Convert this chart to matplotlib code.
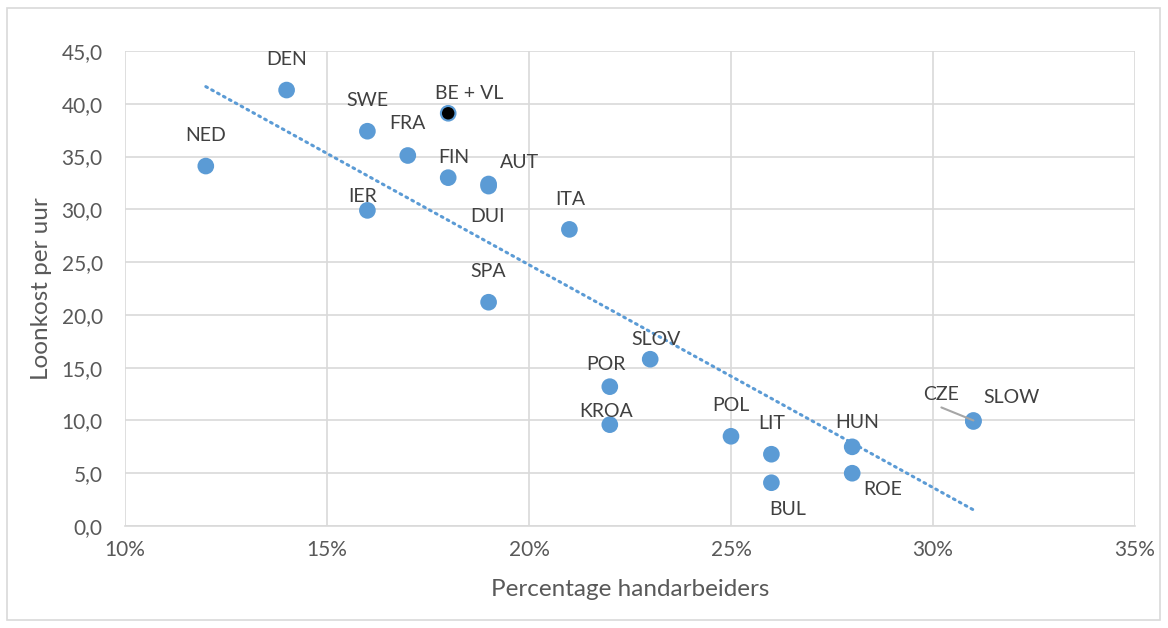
import numpy as np
import matplotlib
matplotlib.use("Agg")
import matplotlib.pyplot as plt
from matplotlib.ticker import FuncFormatter, MultipleLocator
from matplotlib.patches import Rectangle

plt.rcParams['font.family'] = ['Lato', 'DejaVu Sans']

countries = ["NED", "DEN", "SWE", "FRA", "BE + VL", "FIN", "AUT", "DUI", "IER", "ITA",
             "SPA", "SLOV", "POR", "KROA", "POL", "LIT", "BUL", "HUN", "ROE", "CZE", "SLOW"]
pct_manual = [12, 14, 16, 17, 18, 18, 19, 19, 16, 21,
              19, 23, 22, 22, 25, 26, 26, 28, 28, 31, 31]
wage_cost = [34.1, 41.3, 37.4, 35.1, 39.1, 33.0, 32.4, 32.2, 29.9, 28.1,
             21.2, 15.8, 13.2, 9.6, 8.5, 6.8, 4.1, 7.5, 5.0, 10.0, 9.9]

# label offsets in pixels (style)
offsets = {"NED": (0, 31), "DEN": (0, 31), "SWE": (0, 31), "FRA": (0, 32),
           "BE + VL": (21, 20), "FIN": (6, 20), "AUT": (31, 22), "DUI": (-1, -30),
           "IER": (-5, 14), "ITA": (1, 30), "SPA": (0, 31), "SLOV": (6, 20),
           "POR": (-4, 22), "KROA": (-4, 13), "POL": (0, 31), "LIT": (0, 31),
           "BUL": (16, -27), "HUN": (5, 24), "ROE": (30, -16), "CZE": (-32, 26),
           "SLOW": (38, 24)}

blue = "#5b9bd5"
grid_c = "#d9d9d9"
text_c = "#595959"

fig = plt.figure(figsize=(11.68, 6.28), dpi=100)
fig.patches.append(Rectangle((7/1168, 8/628), 1153/1168, 612/628, transform=fig.transFigure,
                             fill=False, edgecolor=grid_c, linewidth=1.2))
ax = fig.add_axes([125/1168, 1 - 526/628, 1010/1168, 475/628])

x = np.array(pct_manual, dtype=float) / 100
y = np.array(wage_cost)

ax.set_xlim(0.10, 0.35)
ax.set_ylim(0, 45)
ax.xaxis.set_major_locator(MultipleLocator(0.05))
ax.yaxis.set_major_locator(MultipleLocator(5))
ax.xaxis.set_major_formatter(FuncFormatter(lambda v, p: f"{v*100:.0f}%"))
ax.yaxis.set_major_formatter(FuncFormatter(lambda v, p: f"{v:.1f}".replace(".", ",")))
ax.grid(True, color=grid_c, linewidth=1.2)
ax.set_axisbelow(True)
for s in ["top", "right"]:
    ax.spines[s].set_visible(False)
ax.spines["left"].set_visible(False)
ax.spines["bottom"].set_color(grid_c)
ax.spines["bottom"].set_linewidth(1.2)
ax.tick_params(length=0, labelsize=15, colors=text_c)
ax.tick_params(axis="y", pad=16)
ax.tick_params(axis="x", pad=10)

# trendline
coef = np.polyfit(x, y, 1)
xt = np.array([x.min(), x.max()])
ax.plot(xt, np.polyval(coef, xt), color=blue, linewidth=2.2,
        linestyle=(0, (0.6, 1.6)), dash_capstyle='round', zorder=2)

colors = ["black" if c == "BE + VL" else blue for c in countries]
ax.scatter(x, y, s=110, c=colors, edgecolors=blue, linewidths=1.5, zorder=3)

for c, xi, yi in zip(countries, x, y):
    dx, dy = offsets[c]
    ax.annotate(c, (xi, yi), xytext=(dx * 0.72, dy * 0.72), textcoords="offset points",
                ha="center", va="center", fontsize=14, color="#404040", zorder=4)

# leader line for CZE
i = countries.index("CZE")
ax.annotate("", (x[i], y[i]), xytext=(-32 * 0.72, 13 * 0.72), textcoords="offset points",
            arrowprops=dict(arrowstyle="-", color="#a6a6a6", linewidth=1.5, shrinkA=0, shrinkB=0))

ax.set_xlabel("Percentage handarbeiders", fontsize=17.5, color=text_c, labelpad=14)
ax.set_ylabel("Loonkost per uur", fontsize=17.5, color=text_c, labelpad=7)

fig.savefig("out.png", dpi=100)
